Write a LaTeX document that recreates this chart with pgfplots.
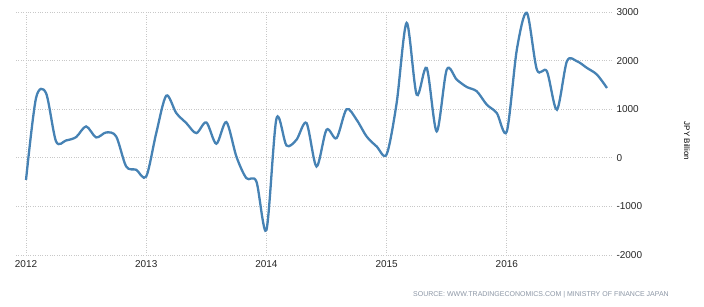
\documentclass[border=0pt]{standalone}
\usepackage{pgfplots}
\pgfplotsset{compat=1.18}
\usepackage{fontspec}
\setmainfont{Liberation Sans}
\definecolor{lineblue}{RGB}{70,130,180}
\definecolor{gridgray}{RGB}{200,200,200}
\definecolor{srcgray}{RGB}{140,150,165}
\begin{document}
\begin{tikzpicture}[x=1pt,y=1pt]
\path[use as bounding box] (0,0) rectangle (704,307);
\begin{axis}[
  at={(16pt,52pt)}, anchor=south west,
  scale only axis, width=596pt, height=243pt,
  xmin=-1, xmax=58.5, ymin=-2000, ymax=3000,
  axis line style={draw=none},
  major tick length=0pt,
  xtick={0,12,24,36,48}, xticklabels={2012,2013,2014,2015,2016},
  ytick={-2000,-1000,0,1000,2000,3000},
  yticklabels={-2000,-1000,0,1000,2000,3000},
  yticklabel pos=right,
  yticklabel style={anchor=west, xshift=1pt, font=\fontsize{10}{12}\selectfont, text=black!85},
  xticklabel style={yshift=-2pt, font=\fontsize{10}{12}\selectfont, text=black!85},
  grid=major,
  major grid style={gridgray, dotted, line width=0.8pt},
  clip=false,
]
\addplot[lineblue, line width=2.3pt, smooth, tension=0.5] table {
x y
0 -454
1 1230
2 1330
3 337
4 357
5 426
6 646
7 419
8 522
9 440
10 -179
11 -247
12 -385
13 508
14 1278
15 921
16 715
17 508
18 728
19 289
20 735
21 27
22 -419
23 -488
24 -1485
25 804
26 254
27 371
28 715
29 -179
30 577
31 405
32 1000
33 784
34 440
35 234
36 70
37 1127
38 2777
39 1299
40 1849
41 543
42 1814
43 1608
44 1457
45 1368
46 1093
47 921
48 543
49 2227
50 2983
51 1814
52 1780
53 990
54 1986
55 1986
56 1849
57 1711
58 1436
};
\end{axis}
\node[rotate=-90, font=\fontsize{8}{10}\selectfont] at (687,166) {JPY Billion};
\node[anchor=west, font=\fontsize{7}{8}\selectfont, text=srcgray, inner sep=0pt] at (413,12) {SOURCE: WWW.TRADINGECONOMICS.COM \textbar\ MINISTRY OF FINANCE JAPAN};
\end{tikzpicture}
\end{document}
